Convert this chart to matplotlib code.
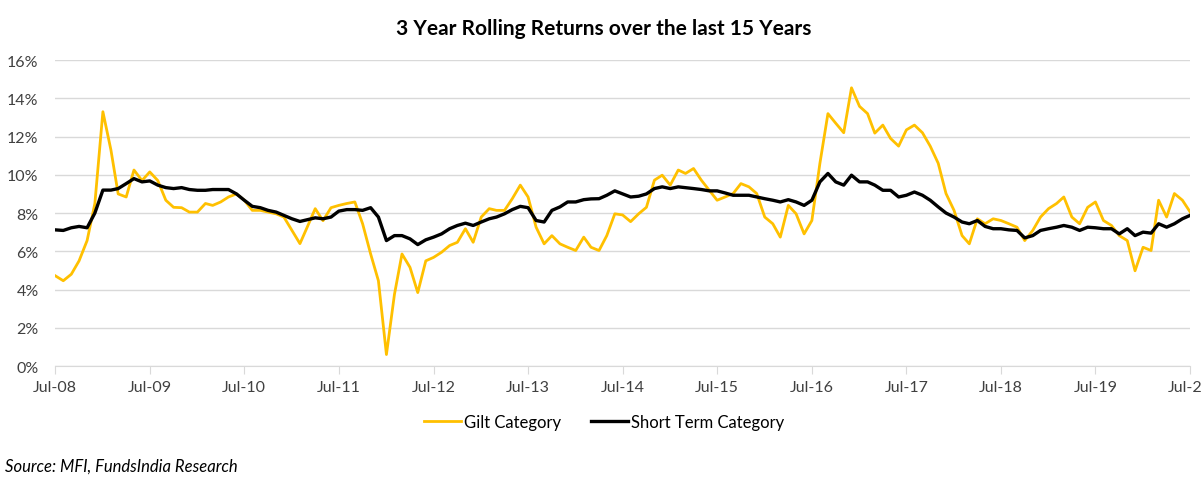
import matplotlib
matplotlib.use("Agg")
import matplotlib.pyplot as plt
import matplotlib.dates as mdates
import numpy as np
import pandas as pd

plt.rcParams['font.family'] = ['Lato', 'DejaVu Sans']

# monthly points, Jul-2008 .. Jul-2020 (values in %)
months = pd.date_range('2008-07-01', periods=145, freq='MS')

gilt = [
    4.72, 4.46, 4.80, 5.50, 6.56, 8.50, 13.30, 11.30, 9.00, 8.84, 10.25, 9.70,
    10.15, 9.70, 8.67, 8.30, 8.28, 8.05, 8.05, 8.50, 8.40, 8.58, 8.84, 9.00,
    8.67, 8.14, 8.14, 8.05, 7.96, 7.79, 7.10, 6.40, 7.26, 8.23, 7.60, 8.28,
    8.40, 8.50, 8.58, 7.44, 5.86, 4.46, 0.60, 3.75, 5.86, 5.16, 3.84, 5.50,
    5.68, 5.95, 6.30, 6.47, 7.18, 6.47, 7.79, 8.23, 8.14, 8.14, 8.75, 9.46,
    8.84, 7.26, 6.39, 6.82, 6.39, 6.21, 6.04, 6.74, 6.21, 6.04, 6.82, 7.96,
    7.90, 7.55, 7.96, 8.30, 9.72, 9.98, 9.46, 10.25, 10.07, 10.33, 9.72, 9.19,
    8.67, 8.84, 9.02, 9.54, 9.37, 9.02, 7.79, 7.44, 6.74, 8.40, 7.96, 6.91,
    7.61, 10.60, 13.20, 12.70, 12.20, 14.55, 13.58, 13.20, 12.18, 12.60, 11.90, 11.50,
    12.35, 12.60, 12.20, 11.50, 10.60, 9.02, 8.14, 6.82, 6.39, 7.70, 7.44, 7.70,
    7.61, 7.44, 7.26, 6.56, 7.09, 7.79, 8.23, 8.50, 8.84, 7.79, 7.44, 8.30,
    8.58, 7.61, 7.35, 6.82, 6.56, 4.98, 6.21, 6.04, 8.67, 7.79, 9.02, 8.67,
    8.05,
]

short_term = [
    7.12, 7.09, 7.23, 7.30, 7.23, 8.00, 9.20, 9.20, 9.28, 9.54, 9.80, 9.63,
    9.68, 9.46, 9.33, 9.28, 9.33, 9.23, 9.19, 9.19, 9.23, 9.23, 9.23, 9.00,
    8.67, 8.35, 8.28, 8.14, 8.05, 7.88, 7.70, 7.56, 7.65, 7.75, 7.70, 7.79,
    8.10, 8.18, 8.18, 8.14, 8.28, 7.79, 6.56, 6.82, 6.82, 6.65, 6.35, 6.60,
    6.74, 6.91, 7.18, 7.35, 7.47, 7.35, 7.53, 7.70, 7.79, 7.96, 8.18, 8.35,
    8.28, 7.61, 7.53, 8.14, 8.32, 8.58, 8.58, 8.70, 8.74, 8.75, 8.93, 9.16,
    9.00, 8.84, 8.88, 9.00, 9.28, 9.37, 9.28, 9.37, 9.33, 9.28, 9.23, 9.16,
    9.16, 9.05, 8.93, 8.93, 8.93, 8.84, 8.75, 8.67, 8.58, 8.70, 8.58, 8.40,
    8.67, 9.63, 10.07, 9.63, 9.46, 9.98, 9.63, 9.63, 9.46, 9.19, 9.19, 8.84,
    8.93, 9.10, 8.93, 8.67, 8.32, 8.00, 7.79, 7.53, 7.44, 7.61, 7.30, 7.18,
    7.18, 7.12, 7.09, 6.70, 6.82, 7.09, 7.18, 7.26, 7.35, 7.26, 7.09, 7.26,
    7.23, 7.18, 7.18, 6.91, 7.18, 6.82, 7.00, 6.95, 7.44, 7.26, 7.44, 7.70,
    7.88,
]

year_ticks = pd.date_range('2008-07-01', '2020-07-01', freq='12MS')

fig = plt.figure(figsize=(12.01, 4.81), dpi=100)
ax = fig.add_axes([0.046, 0.237, 0.945, 0.636])

ax.plot(months, gilt, color='#FFC000', lw=2.0, label='Gilt Category')
ax.plot(months, short_term, color='black', lw=2.4, label='Short Term Category')

ax.set_ylim(0, 16)
ax.set_yticks(np.arange(0, 17, 2))
ax.set_yticklabels([f'{v}%' for v in range(0, 17, 2)])
ax.set_xlim(months[0], months[-1])
ax.set_xticks(year_ticks)
ax.xaxis.set_major_formatter(mdates.DateFormatter('%b-%y'))

ax.grid(axis='y', color='#D9D9D9', lw=1)
ax.set_axisbelow(True)
for s in ['top', 'right', 'left']:
    ax.spines[s].set_visible(False)
ax.spines['bottom'].set_color('#D9D9D9')
ax.tick_params(axis='y', length=0, labelsize=11.5, colors='#404040', pad=12)
ax.tick_params(axis='x', length=6, color='#D9D9D9', labelsize=11.5,
               colors='#404040', pad=4)

fig.text(0.503, 0.94, '3 Year Rolling Returns over the last 15 Years',
         ha='center', va='center', fontsize=15, fontweight='bold')

fig.legend(loc='center', bbox_to_anchor=(0.503, 0.12), ncol=2, frameon=False,
           fontsize=12, handlelength=2.2, handletextpad=0.2, columnspacing=1.8)

fig.text(0.004, 0.029, 'Source: MFI, FundsIndia Research', ha='left', va='center',
         fontsize=12, style='italic')

plt.savefig('out.png', dpi=100)
